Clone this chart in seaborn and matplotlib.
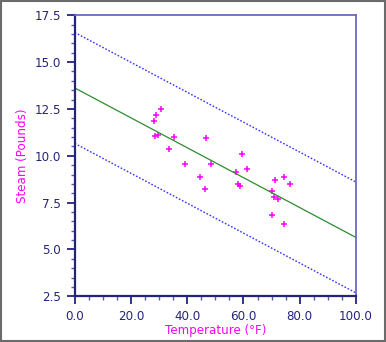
import numpy as np
import pandas as pd
import matplotlib
matplotlib.use("Agg")
import matplotlib.pyplot as plt
from matplotlib.ticker import MultipleLocator, FormatStrFormatter
from matplotlib.patches import Rectangle
import seaborn as sns

# Steam usage vs. average monthly temperature
temperature = [35.3, 29.7, 30.8, 58.8, 61.4, 71.3, 74.4, 76.7, 70.7, 57.5,
               46.4, 28.9, 28.1, 39.1, 46.8, 48.5, 59.3, 70.0, 70.0, 74.5,
               72.1, 58.1, 44.6, 33.4, 28.6]
steam = [10.98, 11.13, 12.51, 8.40, 9.27, 8.73, 6.36, 8.50, 7.82, 9.14,
         8.24, 12.19, 11.88, 9.57, 10.94, 9.58, 10.09, 8.11, 6.83, 8.88,
         7.68, 8.47, 8.86, 10.36, 11.08]
band_halfwidth = 2.96
x_range = [0.0, 100.0]

sns.set_theme(style="white")
plt.rcParams["font.family"] = ["DejaVu Sans"]

navy = "#24247a"
magenta = "#ff00ff"

df = pd.DataFrame({"Temperature": temperature, "Steam": steam})
slope, intercept = np.polyfit(df["Temperature"], df["Steam"], 1)
xs = np.array(x_range)
fit = pd.DataFrame({"x": xs, "fit": intercept + slope * xs})
fit["upper"] = fit["fit"] + band_halfwidth
fit["lower"] = fit["fit"] - band_halfwidth

fig = plt.figure(figsize=(3.86, 3.42), dpi=100)
fig.patch.set_facecolor("white")
ax = fig.add_axes([0.1935, 0.1336, 0.7288, 0.8217])

sns.lineplot(data=fit, x="x", y="upper", ax=ax, color="#3535ff", lw=1.0,
             linestyle=(0, (1.2, 1.3)))
sns.lineplot(data=fit, x="x", y="lower", ax=ax, color="#3535ff", lw=1.0,
             linestyle=(0, (1.2, 1.3)))
sns.lineplot(data=fit, x="x", y="fit", ax=ax, color="#2e8b2e", lw=0.9)
sns.scatterplot(data=df, x="Temperature", y="Steam", ax=ax, marker="+",
                color=magenta, s=18, linewidth=1.1)

ax.set_xlim(0, 100)
ax.set_ylim(2.5, 17.5)
ax.xaxis.set_major_locator(MultipleLocator(20))
ax.xaxis.set_minor_locator(MultipleLocator(5))
ax.yaxis.set_major_locator(MultipleLocator(2.5))
ax.yaxis.set_minor_locator(MultipleLocator(0.5))
ax.xaxis.set_major_formatter(FormatStrFormatter("%.1f"))
ax.yaxis.set_major_formatter(FormatStrFormatter("%.1f"))

ax.tick_params(which="major", direction="out", length=5.5, width=1.3,
               color=navy, labelcolor=navy, labelsize=8.6, pad=4.5,
               bottom=True, left=True)
ax.tick_params(which="minor", direction="out", length=3.0, width=1.0,
               color="#5a5aa8", bottom=True, left=True)

for side in ("left", "bottom"):
    ax.spines[side].set_color(navy)
    ax.spines[side].set_linewidth(1.6)
for side in ("top", "right"):
    ax.spines[side].set_color("#6a6ac0")
    ax.spines[side].set_linewidth(1.3)

ax.set_xlabel("Temperature (°F)", color=magenta, fontsize=8.6, labelpad=0.5)
ax.set_ylabel("Steam (Pounds)", color=magenta, fontsize=8.6, labelpad=3.5)

# outer frame around the whole figure
fig.patches.append(Rectangle((0.002, 0.002), 0.995, 0.995,
                             transform=fig.transFigure, fill=False,
                             edgecolor="#6b6b6b", linewidth=1.5))

fig.savefig("out.png", dpi=100)
